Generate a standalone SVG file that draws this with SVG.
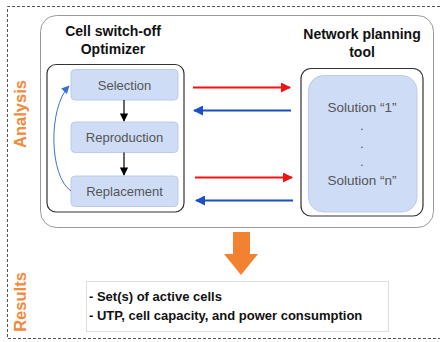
<svg xmlns="http://www.w3.org/2000/svg" width="440" height="342" viewBox="0 0 440 342">
<style>
.frame{fill:none;stroke:#555;stroke-width:1;stroke-dasharray:3,2}
.title{font-family:"Liberation Sans",Arial,sans-serif;font-weight:bold;font-size:14px;fill:#111;text-anchor:middle}
.side{font-family:"Liberation Sans",Arial,sans-serif;font-weight:bold;font-size:16.5px;fill:#f28a3b;text-anchor:middle}
.node{fill:#cfdcf6;stroke:#bccbe6;stroke-width:1}
.ntext{font-family:"Liberation Sans",Arial,sans-serif;font-size:13px;fill:#555;text-anchor:middle}
.stext{font-family:"Liberation Sans",Arial,sans-serif;font-size:13.5px;fill:#555;text-anchor:middle}
.res{font-family:"Liberation Sans",Arial,sans-serif;font-weight:bold;font-size:13px;fill:#111}
.cont{fill:#fff;stroke:#333;stroke-width:1.2}
</style>
<defs>
<marker id="ab" viewBox="0 0 10 10" refX="9" refY="5" markerWidth="7" markerHeight="7" orient="auto"><path d="M0,0L10,5L0,10z" fill="#000"/></marker>
<marker id="ar" viewBox="0 0 10 10" refX="9" refY="5" markerWidth="5" markerHeight="5" orient="auto"><path d="M0,0L10,5L0,10z" fill="#f01414"/></marker>
<marker id="au" viewBox="0 0 10 10" refX="9" refY="5" markerWidth="5" markerHeight="5" orient="auto"><path d="M0,0L10,5L0,10z" fill="#1d4fc4"/></marker>
<marker id="al" viewBox="0 0 10 10" refX="9" refY="5" markerWidth="8" markerHeight="8" orient="auto"><path d="M0,0L10,5L0,10z" fill="#3b6fd6"/></marker>
</defs>
<rect width="440" height="342" fill="#fff"/>
<path class="frame" d="M440,6.5H7.5V338.5H440"/>
<text class="side" transform="translate(26,114) rotate(-90)">Analysis</text>
<text class="side" transform="translate(26,302) rotate(-90)">Results</text>

<g id="analysis">
<rect x="40.5" y="15.5" width="393" height="212" rx="16" fill="#fff" stroke="#999" stroke-width="1"/>
</g>

<g id="optimizer">
<text class="title" x="113" y="36">Cell switch-off</text>
<text class="title" x="113" y="54">Optimizer</text>
<rect class="cont" x="47" y="64.5" width="137" height="147.5" rx="9"/>
</g>
<g id="selection">
<rect class="node" x="71" y="69.5" width="107" height="30.5" rx="4"/>
<text class="ntext" x="124.5" y="90">Selection</text>
</g>
<g id="reproduction">
<rect class="node" x="71" y="122" width="107" height="30.5" rx="4"/>
<text class="ntext" x="124.5" y="142">Reproduction</text>
</g>
<g id="replacement">
<rect class="node" x="71" y="176" width="107" height="30.5" rx="4"/>
<text class="ntext" x="124.5" y="196">Replacement</text>
</g>

<g id="network-tool">
<text class="title" x="362" y="39">Network planning</text>
<text class="title" x="362" y="57">tool</text>
<rect class="cont" x="301" y="68.5" width="122" height="147.5" rx="10"/>
<rect class="node" x="308.5" y="75.5" width="108.5" height="136.5" rx="15"/>
<text class="stext" x="362" y="112">Solution “1”</text>
<text class="stext" x="362" y="130">.</text>
<text class="stext" x="362" y="148">.</text>
<text class="stext" x="362" y="166">.</text>
<text class="stext" x="362" y="185">Solution “n”</text>
</g>

<g id="connectors">
<line x1="124" y1="100" x2="124" y2="121" stroke="#000" stroke-width="1.2" marker-end="url(#ab)"/>
<line x1="124" y1="152.5" x2="124" y2="175" stroke="#000" stroke-width="1.2" marker-end="url(#ab)"/>
<path d="M71,191 C49,176 48,108 69,86" fill="none" stroke="#3b6fd6" stroke-width="1" marker-end="url(#al)"/>
<line x1="193" y1="87.5" x2="290" y2="87.5" stroke="#f01414" stroke-width="2" marker-end="url(#ar)"/>
<line x1="291" y1="110.5" x2="194" y2="110.5" stroke="#1d4fc4" stroke-width="2" marker-end="url(#au)"/>
<line x1="195" y1="177.5" x2="292" y2="177.5" stroke="#f01414" stroke-width="2" marker-end="url(#ar)"/>
<line x1="293" y1="200.5" x2="196" y2="200.5" stroke="#1d4fc4" stroke-width="2" marker-end="url(#au)"/>
<path d="M233,232H250V254H258L241,275L224,254H233z" fill="#f28232"/>
</g>

<g id="results">
<rect x="86.5" y="281.5" width="302" height="50" fill="#fff" stroke="#b8bcc8" stroke-width="1" stroke-dasharray="1,1"/>
<text class="res" x="89" y="301">- Set(s) of active cells</text>
<text class="res" x="89" y="320">- UTP, cell capacity, and power consumption</text>
</g>
</svg>
